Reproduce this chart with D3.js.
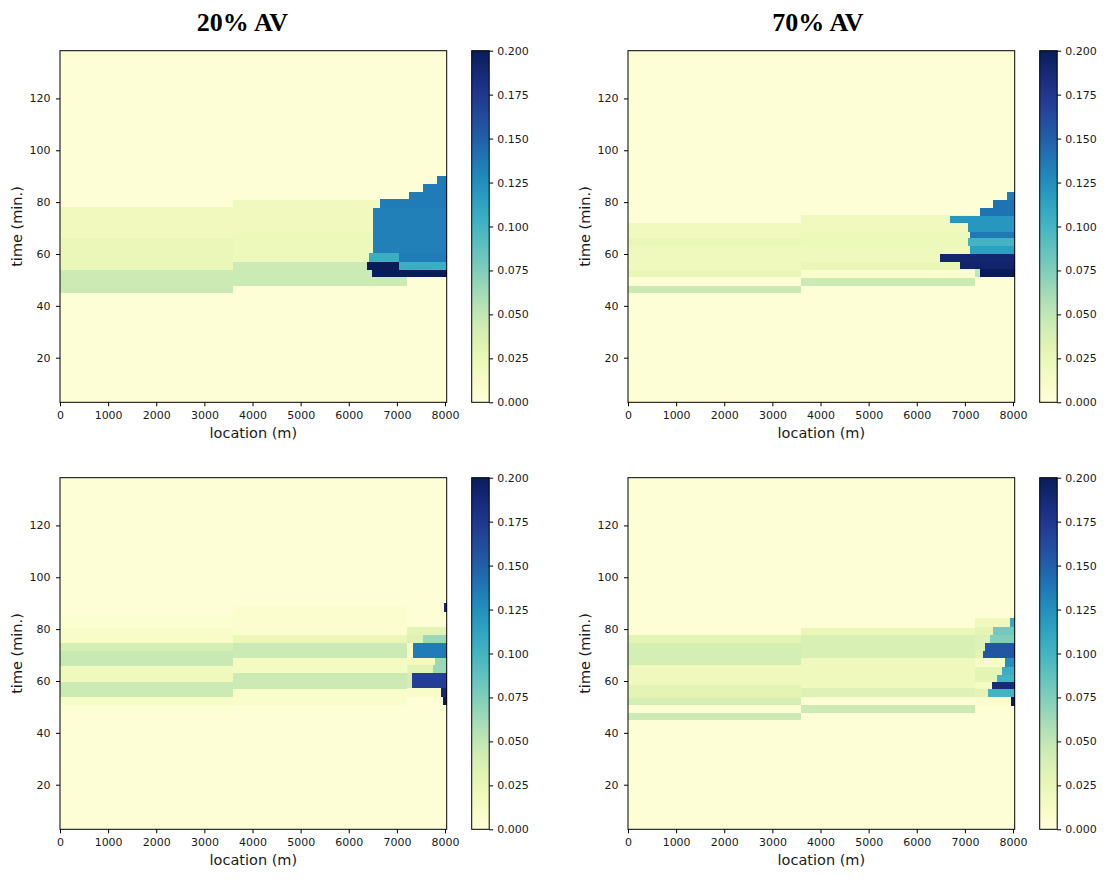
<!DOCTYPE html>
<html lang="en">
<head>
<meta charset="utf-8">
<script src="https://d3js.org/d3.v7.min.js"></script>
<title>AV heatmaps</title>
<style>
 body { margin: 0; background: #fff; }
 .axis text { font: 11px "DejaVu Sans", sans-serif; fill: #1a1a1a; }
 .axis path { display: none; }
 .axis line { stroke: #000; }
 .label { font: 14.5px "DejaVu Sans", sans-serif; fill: #1a1a1a; }
 .title { font: bold 26px "Liberation Serif", serif; fill: #000; }
</style>
</head>
<body>
<svg width="1111" height="891"></svg>
<script>
// cells: [x from (m), x to (m), time from (min), time to (min), value]
var seg20a = [
  [0, 8035, 2.8, 138.4, 0.002],
  [0, 3600, 44.8, 53.8, 0.045],
  [0, 3600, 53.8, 66, 0.024],
  [0, 3600, 66, 78.2, 0.018],
  [3600, 7200, 47.8, 56.8, 0.045],
  [3600, 7200, 56.8, 68, 0.022],
  [3600, 7200, 68, 80.8, 0.018],
  [7840, 8035, 87, 90.2, 0.135],
  [7550, 8035, 84, 87, 0.135],
  [7250, 8035, 81.1, 84, 0.135],
  [6650, 8035, 77.8, 81.1, 0.135],
  [6510, 8035, 60.3, 77.8, 0.133],
  [6425, 7050, 57, 60.3, 0.105],
  [7050, 8035, 57, 60.3, 0.135],
  [6385, 7050, 53.8, 57, 0.2],
  [7050, 8035, 53.8, 57, 0.105],
  [6475, 8035, 51, 53.8, 0.2]
];

var seg70a = [
  [0, 8035, 2.8, 138.4, 0.002],
  [0, 3600, 44.8, 47.8, 0.045],
  [0, 3600, 47.8, 51, 0.004],
  [0, 3600, 51, 54, 0.026],
  [0, 3600, 54, 63, 0.02],
  [0, 3600, 63, 66, 0.024],
  [0, 3600, 66, 71.8, 0.018],
  [3600, 7200, 47.8, 50.9, 0.045],
  [3600, 7200, 50.9, 53.8, 0.006],
  [3600, 7200, 53.8, 57, 0.026],
  [3600, 7200, 57, 63, 0.02],
  [3600, 7200, 63, 69, 0.022],
  [3600, 7200, 69, 75, 0.018],
  [7200, 7315, 51, 54.2, 0.05],
  [7870, 8035, 80.8, 84, 0.135],
  [7590, 8035, 77.6, 80.8, 0.14],
  [7315, 8035, 74.8, 77.6, 0.14],
  [6690, 8035, 71.8, 74.8, 0.12],
  [7070, 8035, 68.6, 71.8, 0.12],
  [7107, 8035, 66, 68.6, 0.137],
  [7070, 8035, 63, 66, 0.1],
  [7107, 8035, 60, 63, 0.115],
  [6480, 8035, 57, 60, 0.19],
  [6900, 8035, 54.2, 57, 0.192],
  [7315, 8035, 51, 54.2, 0.2]
];

var seg20b = [
  [0, 8035, 2.8, 138.4, 0.002],
  [0, 3600, 48, 50.7, 0.005],
  [0, 3600, 50.7, 53.9, 0.012],
  [0, 3600, 53.9, 59.7, 0.045],
  [0, 3600, 59.7, 65.7, 0.02],
  [0, 3600, 65.7, 71.5, 0.047],
  [0, 3600, 71.5, 74.5, 0.04],
  [0, 3600, 74.5, 80.3, 0.01],
  [0, 3600, 80.3, 86, 0.005],
  [3600, 7200, 50.7, 56.9, 0.008],
  [3600, 7200, 56.9, 62.9, 0.045],
  [3600, 7200, 62.9, 68.7, 0.015],
  [3600, 7200, 68.7, 74.5, 0.045],
  [3600, 7200, 74.5, 77.7, 0.025],
  [3600, 7200, 77.7, 89, 0.006],
  [7200, 8035, 77.7, 80.9, 0.03],
  [7200, 7547, 74.5, 77.7, 0.035],
  [7547, 8035, 74.5, 77.7, 0.065],
  [7200, 7327, 68.7, 74.5, 0.012],
  [7327, 8035, 68.7, 74.5, 0.135],
  [7200, 7790, 66.1, 68.7, 0.015],
  [7790, 8035, 66.1, 68.7, 0.065],
  [7200, 7755, 63, 66.1, 0.03],
  [7755, 8035, 63, 66.1, 0.065],
  [7200, 7306, 57.2, 63, 0.04],
  [7306, 8035, 57.2, 63, 0.17],
  [7200, 7915, 53.9, 57.2, 0.01],
  [7915, 8035, 53.9, 57.2, 0.19],
  [7965, 8035, 50.7, 53.9, 0.2],
  [7977, 8035, 86.7, 90, 0.19]
];

var seg70b = [
  [0, 8035, 2.8, 138.4, 0.002],
  [0, 3600, 44.9, 47.5, 0.045],
  [0, 3600, 47.5, 50.7, 0.004],
  [0, 3600, 50.7, 53.3, 0.04],
  [0, 3600, 53.3, 58.4, 0.03],
  [0, 3600, 58.4, 66.1, 0.02],
  [0, 3600, 66.1, 74.5, 0.04],
  [0, 3600, 74.5, 77.7, 0.03],
  [3600, 7200, 47.5, 50.7, 0.045],
  [3600, 7200, 50.7, 53.9, 0.004],
  [3600, 7200, 53.9, 57.2, 0.035],
  [3600, 7200, 57.2, 68.7, 0.02],
  [3600, 7200, 68.7, 77.7, 0.038],
  [3600, 7200, 77.7, 80.3, 0.025],
  [7200, 7937, 80.9, 84.2, 0.02],
  [7937, 8035, 80.9, 84.2, 0.11],
  [7200, 7590, 77.7, 80.9, 0.03],
  [7590, 8035, 77.7, 80.9, 0.08],
  [7200, 7520, 74.5, 77.7, 0.035],
  [7520, 8035, 74.5, 77.7, 0.075],
  [7200, 7418, 71.6, 74.5, 0.035],
  [7418, 8035, 71.6, 74.5, 0.155],
  [7200, 7370, 68.7, 71.6, 0.03],
  [7370, 8035, 68.7, 71.6, 0.155],
  [7200, 7833, 65.5, 68.7, 0.012],
  [7833, 8035, 65.5, 68.7, 0.125],
  [7200, 7765, 62.3, 65.5, 0.03],
  [7765, 8035, 62.3, 65.5, 0.105],
  [7200, 7673, 59.7, 62.3, 0.03],
  [7673, 8035, 59.7, 62.3, 0.1],
  [7200, 7556, 56.8, 59.7, 0.015],
  [7556, 8035, 56.8, 59.7, 0.185],
  [7200, 7486, 53.7, 56.8, 0.03],
  [7486, 8035, 53.7, 56.8, 0.1],
  [7200, 7950, 50.3, 53.7, 0.006],
  [7950, 8035, 50.3, 53.7, 0.2]
];

var xTicks = [0, 1000, 2000, 3000, 4000, 5000, 6000, 7000, 8000];
var yTicks = [20, 40, 60, 80, 100, 120];
var cbTicks = [0, 0.025, 0.05, 0.075, 0.1, 0.125, 0.15, 0.175, 0.2];
var titles = ["20% AV", "70% AV"];

var svg = d3.select("svg"),
  w = 386.7,
  h = 351.6,
  xMax = 8035,
  tMin = 2.8,
  tMax = 138.4;

var color = d3.scaleSequential(d3.interpolateYlGnBu).domain([0, 0.2]);

var panels = [
  {left: 60, top: 50.7, cells: seg20a},
  {left: 628, top: 50.7, cells: seg70a},
  {left: 60, top: 477.7, cells: seg20b},
  {left: 628, top: 477.7, cells: seg70b}
];

// colorbar gradient
var grad = svg.append("defs").append("linearGradient")
    .attr("id", "cbgrad")
    .attr("x1", 0).attr("y1", 1).attr("x2", 0).attr("y2", 0);
grad.selectAll("stop")
  .data(d3.range(0, 1.0001, 0.05))
  .enter().append("stop")
    .attr("offset", function(d) { return d; })
    .attr("stop-color", function(d) { return color(d * 0.2); });

panels.forEach(function(p) {
  var x = d3.scaleLinear().domain([0, xMax]).range([0, w]);
  var y = d3.scaleLinear().domain([tMin, tMax]).range([h, 0]);

  var g = svg.append("g").attr("transform", "translate(" + p.left + "," + p.top + ")");

  g.append("g").selectAll("rect")
    .data(p.cells)
    .enter().append("rect")
      .attr("x", function(d) { return x(d[0]); })
      .attr("y", function(d) { return y(d[3]); })
      .attr("width", function(d) { return x(d[1]) - x(d[0]); })
      .attr("height", function(d) { return y(d[2]) - y(d[3]); })
      .attr("fill", function(d) { return color(d[4]); })
      .attr("shape-rendering", "crispEdges");

  g.append("rect")
    .attr("width", w).attr("height", h)
    .attr("fill", "none").attr("stroke", "#000").attr("stroke-width", 1);

  g.append("g")
    .attr("class", "axis")
    .attr("transform", "translate(0," + h + ")")
    .call(d3.axisBottom(x).tickValues(xTicks).tickSize(4).tickPadding(5).tickFormat(d3.format("d")));

  g.append("g")
    .attr("class", "axis")
    .call(d3.axisLeft(y).tickValues(yTicks).tickSize(4).tickPadding(5.5).tickFormat(d3.format("d")));

  g.append("text")
    .attr("class", "label")
    .attr("x", w / 2)
    .attr("y", h + 36)
    .attr("text-anchor", "middle")
    .text("location (m)");

  g.append("text")
    .attr("class", "label")
    .attr("transform", "translate(" + (-38) + "," + (h / 2) + ") rotate(-90)")
    .attr("text-anchor", "middle")
    .text("time (min.)");

  // colorbar
  var cb = g.append("g").attr("transform", "translate(" + (w + 25) + ",0)");
  var cy = d3.scaleLinear().domain([0, 0.2]).range([h, 0]);
  cb.append("rect")
    .attr("width", 17.5).attr("height", h)
    .attr("fill", "url(#cbgrad)")
    .attr("stroke", "#000").attr("stroke-width", 1);
  cb.append("g")
    .attr("class", "axis")
    .attr("transform", "translate(17.5,0)")
    .call(d3.axisRight(cy).tickValues(cbTicks).tickSize(4).tickPadding(4).tickFormat(d3.format(".3f")));
});

svg.selectAll(".title")
  .data(titles)
  .enter().append("text")
    .attr("class", "title")
    .attr("x", function(d, i) { return i === 0 ? 242.5 : 818; })
    .attr("y", 31)
    .attr("text-anchor", "middle")
    .text(function(d) { return d; });
</script>
</body>
</html>
